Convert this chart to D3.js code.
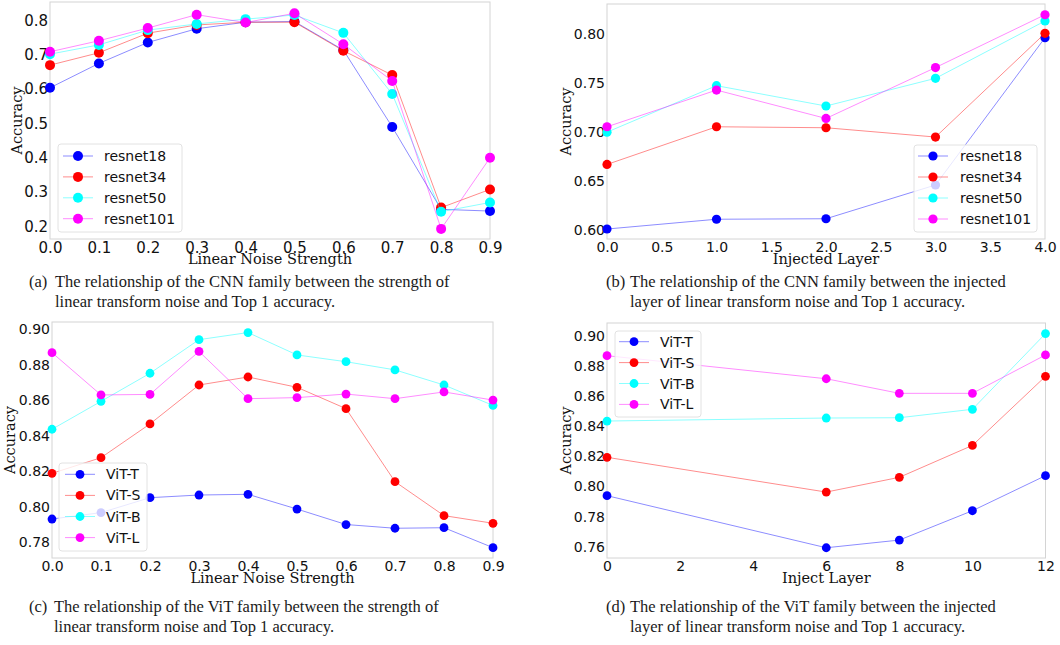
<!DOCTYPE html>
<html>
<head>
<meta charset="utf-8">
<script src="https://cdn.jsdelivr.net/npm/d3@7"></script>
<style>
  body { margin: 0; background: #fff; }
  .tick text { fill: #111; }
  .axisLabel { font-family: "DejaVu Serif", serif; font-size: 14.5px; fill: #111; }
  .caption { font-family: "Liberation Serif", "Times New Roman", serif; font-size: 16.5px; fill: #1a1a1a; }
  .legendText { font-family: "DejaVu Sans", sans-serif; font-size: 14px; fill: #111; }
</style>
</head>
<body>
<div class="chart"></div>
<script>
// x values
var noiseStrength = [0.0, 0.1, 0.2, 0.3, 0.4, 0.5, 0.6, 0.7, 0.8, 0.9];
var cnnLayers = [0, 1, 2, 3, 4];
var vitLayers = [0, 6, 8, 10, 12];

var cnnModels = ["resnet18", "resnet34", "resnet50", "resnet101"];
var vitModels = ["ViT-T", "ViT-S", "ViT-B", "ViT-L"];
var seriesColors = ["#0000ff", "#ff0000", "#00ffff", "#ff00ff"];

// (a) CNN vs noise strength
var resnet18Noise = [0.604, 0.675, 0.736, 0.776, 0.795, 0.797, 0.714, 0.490, 0.250, 0.245];
var resnet34Noise = [0.670, 0.706, 0.763, 0.787, 0.795, 0.795, 0.712, 0.641, 0.255, 0.308];
var resnet50Noise = [0.702, 0.729, 0.772, 0.790, 0.804, 0.816, 0.764, 0.586, 0.243, 0.270];
var resnet101Noise = [0.709, 0.741, 0.778, 0.817, 0.794, 0.821, 0.731, 0.624, 0.193, 0.400];

// (b) CNN vs injected layer
var resnet18Layer = [0.601, 0.611, 0.6115, 0.646, 0.7965];
var resnet34Layer = [0.667, 0.7055, 0.7045, 0.695, 0.801];
var resnet50Layer = [0.700, 0.7475, 0.7267, 0.755, 0.8136];
var resnet101Layer = [0.7055, 0.743, 0.714, 0.766, 0.820];

// (c) ViT vs noise strength
var vitTNoise = [0.7931, 0.7967, 0.8051, 0.8066, 0.8070, 0.7987, 0.7900, 0.7879, 0.7882, 0.7770];
var vitSNoise = [0.8188, 0.8276, 0.8466, 0.8685, 0.8730, 0.8672, 0.8552, 0.8141, 0.7950, 0.7907];
var vitBNoise = [0.8436, 0.8593, 0.8751, 0.8940, 0.8980, 0.8854, 0.8816, 0.8770, 0.8685, 0.8570];
var vitLNoise = [0.8867, 0.8629, 0.8632, 0.8874, 0.8608, 0.8614, 0.8634, 0.8608, 0.8646, 0.8600];

// (d) ViT vs inject layer
var vitTLayer = [0.7939, 0.7593, 0.7644, 0.7839, 0.8072];
var vitSLayer = [0.8194, 0.7963, 0.8061, 0.8273, 0.8732];
var vitBLayer = [0.8435, 0.8455, 0.8457, 0.8513, 0.9016];
var vitLLayer = [0.8869, 0.8716, 0.8619, 0.8619, 0.8874];

// tick labels
var noiseTicks = [0, 0.1, 0.2, 0.3, 0.4, 0.5, 0.6, 0.7, 0.8, 0.9];
var cnnLayerTicks = [0, 0.5, 1, 1.5, 2, 2.5, 3, 3.5, 4];
var vitLayerTicks = [0, 2, 4, 6, 8, 10, 12];
var aYTicks = [0.2, 0.3, 0.4, 0.5, 0.6, 0.7, 0.8];
var bYTicks = [0.60, 0.65, 0.70, 0.75, 0.80];
var cYTicks = [0.78, 0.80, 0.82, 0.84, 0.86, 0.88, 0.90];
var dYTicks = [0.76, 0.78, 0.80, 0.82, 0.84, 0.86, 0.88, 0.90];

var svg = d3.select(".chart").append("svg")
  .attr("width", 1060)
  .attr("height", 645);

function drawPanel(p) {
  var g = svg.append("g");

  var x = d3.scaleLinear().domain(p.xDomain).range([p.left, p.right]);
  var y = d3.scaleLinear().domain(p.yCal).range(p.yCalPx);

  // frame
  g.append("rect")
    .attr("x", p.left).attr("y", p.top)
    .attr("width", p.right - p.left).attr("height", p.bottom - p.top)
    .attr("fill", "#fff")
    .attr("stroke", "#d4d4d4")
    .attr("stroke-width", 1);

  var xAxis = d3.axisBottom(x).tickValues(p.xTicks).tickFormat(d3.format(p.xFormat))
    .tickSize(0).tickPadding(3.5);
  var yAxis = d3.axisLeft(y).tickValues(p.yTicks).tickFormat(d3.format(p.yFormat))
    .tickSize(0).tickPadding(2);

  var gx = g.append("g").attr("transform", `translate(0, ${p.bottom})`).call(xAxis);
  var gy = g.append("g").attr("transform", `translate(${p.left}, 0)`).call(yAxis);
  [gx, gy].forEach(function(a) {
    a.select(".domain").remove();
    a.selectAll("text")
      .style("font-family", "'DejaVu Sans', sans-serif")
      .style("font-size", p.tickSize + "px");
  });

  // series
  var line = d3.line().x(d => x(d[0])).y(d => y(d[1]));
  p.series.forEach(function(vals, i) {
    var pts = p.xs.map((v, j) => [v, vals[j]]);
    var sg = g.append("g");
    sg.append("path")
      .attr("d", line(pts))
      .attr("fill", "none")
      .attr("stroke", seriesColors[i])
      .attr("stroke-opacity", 0.45)
      .attr("stroke-width", 1);
    sg.selectAll("circle")
      .data(pts)
      .enter()
      .append("circle")
      .attr("cx", d => x(d[0]))
      .attr("cy", d => y(d[1]))
      .attr("r", p.r)
      .attr("fill", seriesColors[i]);
  });

  // axis labels
  g.append("text")
    .attr("class", "axisLabel")
    .attr("x", (p.left + p.right) / 2)
    .attr("y", p.xLabelY)
    .attr("text-anchor", "middle")
    .text(p.xLabel);

  g.append("text")
    .attr("class", "axisLabel")
    .attr("transform", `translate(${p.yLabelX}, ${(p.top + p.bottom) / 2}) rotate(-90)`)
    .attr("text-anchor", "middle")
    .text("Accuracy");

  // legend
  var L = p.legend;
  var lg = g.append("g");
  lg.append("rect")
    .attr("x", L.x).attr("y", L.y)
    .attr("width", L.w).attr("height", L.h)
    .attr("rx", 3)
    .attr("fill", "#fff").attr("fill-opacity", 0.8)
    .attr("stroke", "#e2e2e2");
  p.names.forEach(function(name, i) {
    var ry = L.rowY + i * L.rowGap;
    lg.append("line")
      .attr("x1", L.mx - 15).attr("x2", L.mx + 15)
      .attr("y1", ry).attr("y2", ry)
      .attr("stroke", seriesColors[i])
      .attr("stroke-opacity", 0.45);
    lg.append("circle")
      .attr("cx", L.mx).attr("cy", ry).attr("r", p.r)
      .attr("fill", seriesColors[i]);
    lg.append("text")
      .attr("class", "legendText")
      .attr("x", L.tx).attr("y", ry)
      .attr("dy", "0.36em")
      .text(name);
  });

  // caption
  var c = p.caption;
  svg.append("text").attr("class", "caption")
    .attr("x", c.labelX).attr("y", c.y1).text(c.label);
  svg.append("text").attr("class", "caption")
    .attr("x", c.textX).attr("y", c.y1).text(c.line1);
  svg.append("text").attr("class", "caption")
    .attr("x", c.textX).attr("y", c.y1 + 20).text(c.line2);
}

drawPanel({
  left: 50, right: 490, top: 2, bottom: 239,
  xDomain: [0, 0.9], yCal: [0.2, 0.8], yCalPx: [226.5, 20.5],
  xs: noiseStrength, xTicks: noiseTicks, yTicks: aYTicks,
  xFormat: ".1f", yFormat: ".1f", tickSize: 15, r: 5,
  series: [resnet18Noise, resnet34Noise, resnet50Noise, resnet101Noise],
  names: cnnModels,
  xLabel: "Linear Noise Strength", xLabelY: 263.5, yLabelX: 22,
  legend: { x: 58, y: 144, w: 124, h: 88, mx: 78, tx: 104, rowY: 156, rowGap: 20.9 },
  caption: { label: "(a)", labelX: 29, textX: 55, y1: 287,
    line1: "The relationship of the CNN family between the strength of",
    line2: "linear transform noise and Top 1 accuracy." }
});

drawPanel({
  left: 607, right: 1045, top: 4, bottom: 239,
  xDomain: [0, 4], yCal: [0.60, 0.80], yCalPx: [230, 34.3],
  xs: cnnLayers, xTicks: cnnLayerTicks, yTicks: bYTicks,
  xFormat: ".1f", yFormat: ".2f", tickSize: 14, r: 4.6,
  series: [resnet18Layer, resnet34Layer, resnet50Layer, resnet101Layer],
  names: cnnModels,
  xLabel: "Injected Layer", xLabelY: 263.5, yLabelX: 571,
  legend: { x: 914, y: 145, w: 123, h: 87, mx: 933, tx: 960, rowY: 156, rowGap: 21 },
  caption: { label: "(b)", labelX: 606, textX: 630, y1: 287,
    line1: "The relationship of the CNN family between the injected",
    line2: "layer of linear transform noise and Top 1 accuracy." }
});

drawPanel({
  left: 52, right: 493, top: 322, bottom: 558,
  xDomain: [0, 0.9], yCal: [0.78, 0.90], yCalPx: [542.3, 329],
  xs: noiseStrength, xTicks: noiseTicks, yTicks: cYTicks,
  xFormat: ".1f", yFormat: ".2f", tickSize: 14, r: 4.4,
  series: [vitTNoise, vitSNoise, vitBNoise, vitLNoise],
  names: vitModels,
  xLabel: "Linear Noise Strength", xLabelY: 583, yLabelX: 14.5,
  legend: { x: 59, y: 463, w: 88, h: 88, mx: 80, tx: 106, rowY: 474.3, rowGap: 21.1 },
  caption: { label: "(c)", labelX: 29, textX: 54, y1: 612,
    line1: "The relationship of the ViT family between the strength of",
    line2: "linear transform noise and Top 1 accuracy." }
});

drawPanel({
  left: 607, right: 1045.5, top: 323, bottom: 558,
  xDomain: [0, 12], yCal: [0.76, 0.90], yCalPx: [546.7, 336],
  xs: vitLayers, xTicks: vitLayerTicks, yTicks: dYTicks,
  xFormat: "d", yFormat: ".2f", tickSize: 14, r: 4.4,
  series: [vitTLayer, vitSLayer, vitBLayer, vitLLayer],
  names: vitModels,
  xLabel: "Inject Layer", xLabelY: 583, yLabelX: 571,
  legend: { x: 615, y: 331, w: 86, h: 86, mx: 634, tx: 660, rowY: 341.7, rowGap: 20.9 },
  caption: { label: "(d)", labelX: 606, textX: 630, y1: 612,
    line1: "The relationship of the ViT family between the injected",
    line2: "layer of linear transform noise and Top 1 accuracy." }
});
</script>
</body>
</html>
